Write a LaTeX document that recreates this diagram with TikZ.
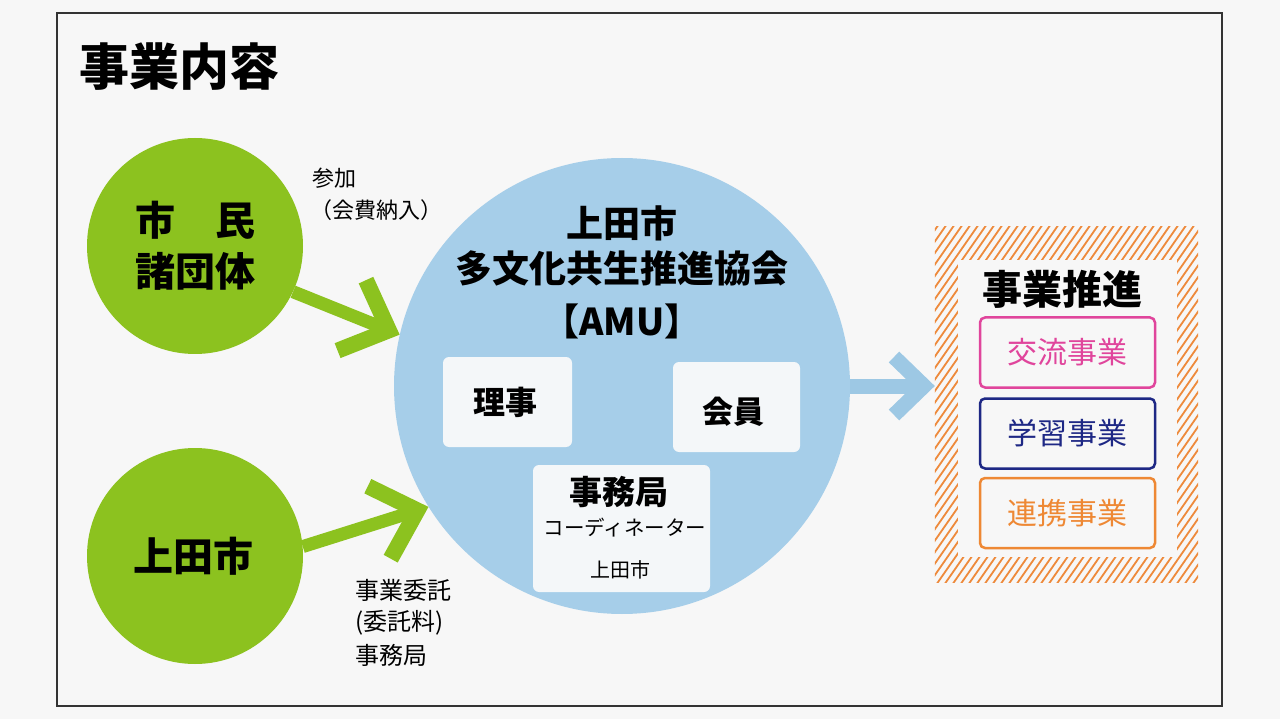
\documentclass[tikz,border=0pt]{standalone}
\usepackage{fontspec}
\setmainfont{Noto Sans CJK JP}
\newfontfamily\cjk{Noto Sans CJK JP}
\usetikzlibrary{arrows.meta}
\definecolor{bgc}{HTML}{F7F7F7}
\definecolor{framec}{HTML}{333333}
\definecolor{greenc}{HTML}{8CC21F}
\definecolor{bluec}{HTML}{A6CEE9}
\definecolor{barrowc}{HTML}{9DC8E4}
\definecolor{boxw}{HTML}{F4F7F9}
\definecolor{pinkc}{HTML}{E0459C}
\definecolor{navyc}{HTML}{1E2885}
\definecolor{orangec}{HTML}{EE8834}
\definecolor{hatchc}{HTML}{EE8A3C}
\tikzset{
  fs/.style={font=\cjk\fontsize{#1}{#1}\selectfont},
  fsb/.style={font=\cjk\bfseries\fontsize{#1}{#1}\selectfont},
  gcircle/.style={circle, fill=greenc, minimum size=216pt, inner sep=0pt, align=center},
  wbox/.style={rectangle, rounded corners=6pt, fill=boxw, inner sep=0pt},
  cbox/.style={rectangle, rounded corners=5pt, fill=bgc, line width=2.5pt, inner sep=0pt,
    minimum width=175pt, minimum height=70pt, font=\cjk\fontsize{30}{30}\selectfont},
  garrow/.style={draw=greenc, line width=13pt, -{Straight Barb[length=40pt, width=76pt, line width=16pt]}},
  barrow/.style={draw=barrowc, line width=15pt, -{Straight Barb[length=30pt, width=58pt, line width=15pt]}},
  hatchline/.style={draw=hatchc, line width=1.8pt},
  lbl/.style={inner sep=0pt, anchor=west}
}
\begin{document}
\begin{tikzpicture}[x=1pt, y=-1pt]
\useasboundingbox (0,0) rectangle (1280,719);
\fill[bgc] (0,0) rectangle (1280,719);
\draw[framec, line width=2pt] (57,13) rectangle (1222,706);

% title
\node[lbl, fsb=50] (title) at (79,67) {事業内容};

% AMU circle
\node[circle, fill=bluec, minimum size=456pt, inner sep=0pt] (amu) at (622,386) {};
\node[fsb=37, align=center, inner sep=0pt] (amutxt1) at (622,223) {上田市};
\node[fsb=37, align=center, inner sep=0pt] (amutxt2) at (622,268) {多文化共生推進協会};
\node[fsb=37, align=center, inner sep=0pt] (amutxt3) at (622,321) {【AMU】};

% inner boxes
\node[wbox, minimum width=129pt, minimum height=90pt] (riji) at (507.5,402) {};
\node[fsb=32, inner sep=0pt] (rijit) at (505,402) {理事};
\node[wbox, minimum width=127pt, minimum height=90pt] (kaiin) at (736.5,407) {};
\node[fsb=31, inner sep=0pt] (kaiint) at (733,412) {会員};
\node[wbox, minimum width=177pt, minimum height=127pt] (jimu) at (621.5,528.5) {};
\node[fsb=33, inner sep=0pt] (jimut) at (619,492) {事務局};
\node[fs=20.5, inner sep=0pt] (coord) at (625,528) {コーディネーター};
\node[fs=20, inner sep=0pt] (jimucity) at (620,570) {上田市};

% green circles
\node[gcircle] (cit) at (195,246) {};
\node[fsb=40, inner sep=0pt] (citt1) at (195,220) {市　民};
\node[fsb=40, inner sep=0pt] (citt2) at (195,271) {諸団体};
\node[gcircle] (city) at (195,556) {};
\node[fsb=40, inner sep=0pt] (cityt) at (193,556) {上田市};

% labels
\node[lbl, fs=22] (sanka) at (312,178) {参加};
\node[lbl, fs=22] (kaihi) at (310,210) {（会費納入）};
\node[lbl, fs=24] (itaku1) at (355,590) {事業委託};
\node[lbl, fs=24] (itaku2) at (355,623) {(委託料)};
\node[lbl, fs=24] (itaku3) at (355,655) {事務局};

% hatched box
\node[rectangle, minimum width=263pt, minimum height=355pt, inner sep=0pt] (hatch) at (1066.5,404.5) {};
\begin{scope}
\clip (hatch.north west) rectangle (hatch.south east);
\foreach \i in {0,...,70} {
  \draw[hatchline] (680+\i*8, 585) -- ++(251,-361);
}
\end{scope}
\fill[bgc] (958,260) rectangle (1177,557);
\node[fsb=40, inner sep=0pt] (suishin) at (1062,289) {事業推進};
\node[cbox, draw=pinkc, text=pinkc] (koryu) at (1067.5,352.5) {交流事業};
\node[cbox, draw=navyc, text=navyc] (gakushu) at (1067.5,433.5) {学習事業};
\node[cbox, draw=orangec, text=orangec] (renkei) at (1067.5,513) {連携事業};

% arrows
\draw[garrow] (cit.-25) -- (amu.167);
\draw[garrow] (city.5) -- (amu.212);
\draw[barrow] (amu.east) -- (amu.east -| hatch.west);
\end{tikzpicture}
\end{document}
